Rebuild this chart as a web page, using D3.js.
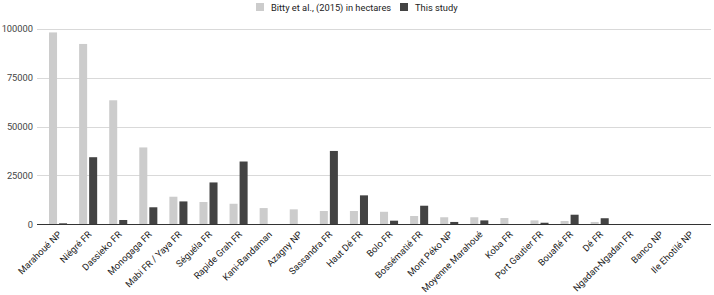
<!DOCTYPE html>
<html lang="en">
<head>
	<meta charset="utf-8">
	<title>Forest areas</title>
	<script type="text/javascript" src="https://cdn.jsdelivr.net/npm/d3@7"></script>
	<style type="text/css">
		body { margin: 0; background: #fff; }
		text { font-family: Roboto, "Noto Sans", sans-serif; }
	</style>
</head>
<body>
<script type="text/javascript">
	// data
	var categories = ["Marahoué NP", "Niégré FR", "Dassieko FR", "Monogaga FR", "Mabi FR / Yaya FR",
		"Séguéla FR", "Rapide Grah FR", "Kani-Bandaman", "Azagny NP", "Sassandra FR", "Haut Dé FR",
		"Bolo FR", "Bossématié FR", "Mont Péko NP", "Moyenne Marahoué", "Koba FR", "Port Gautier FR",
		"Bouaflé FR", "Dé FR", "Ngadan-Ngadan FR", "Banco NP", "Ile Ehotilé NP"];
	var bitty = [98100, 92200, 63400, 39300, 14100, 11400, 10500, 8300, 7650, 6800, 6800,
		6400, 4250, 3600, 3600, 3200, 2000, 1700, 1200, 0, 0, 0];
	var study = [500, 34300, 2200, 8700, 11700, 21400, 32100, 0, 0, 37500, 14800,
		1850, 9500, 1200, 2000, 0, 800, 4900, 3100, 0, 0, 0];
	var seriesNames = ["Bitty et al., (2015) in hectares", "This study"];
	var seriesColors = ["#cccccc", "#434343"];
	var yTicks = [0, 25000, 50000, 75000, 100000];

	var w = 714;
	var h = 295;
	var fs = "9.3px";

	var svg = d3.select("body")
		.append("svg")
		.attr("width", w)
		.attr("height", h)

	var x0 = d3.scaleBand()
		.domain(categories)
		.range([43, 705])
		.paddingInner(0.4)
		.paddingOuter(0.2)
	var x1 = d3.scaleBand()
		.domain([0, 1])
		.range([0, x0.bandwidth()])
		.paddingInner(0.2)
	var yScale = d3.scaleLinear()
		.domain([0, 100000])
		.range([224.3, 28.7])

	// gridlines
	svg.selectAll("line.grid")
		.data(yTicks.slice(1))
		.enter()
		.append("line")
		.attr("x1", 37)
		.attr("x2", 711)
		.attr("y1", function(d){ return Math.round(yScale(d)) + 0.5 })
		.attr("y2", function(d){ return Math.round(yScale(d)) + 0.5 })
		.attr("stroke", "#d9d9d9")
		.attr("stroke-width", 1)

	// y labels
	svg.selectAll("text.ylab")
		.data(yTicks)
		.enter()
		.append("text")
		.text(function(d){ return d })
		.attr("x", 33)
		.attr("y", function(d){ return yScale(d) + 3.5 })
		.attr("text-anchor", "end")
		.attr("font-size", fs)
		.attr("fill", "#444")

	// bars
	var series = [bitty, study];
	series.forEach(function(vals, s){
		svg.selectAll("rect.s" + s)
			.data(vals)
			.enter()
			.append("rect")
			.attr("class", "s" + s)
			.attr("x", function(d, i){ return x0(categories[i]) + x1(s) })
			.attr("y", function(d){ return yScale(d) })
			.attr("width", x1.bandwidth())
			.attr("height", function(d){ return yScale(0) - yScale(d) })
			.attr("fill", seriesColors[s])
	})

	// baseline
	svg.append("line")
		.attr("x1", 37)
		.attr("x2", 711)
		.attr("y1", Math.round(yScale(0)) + 0.5)
		.attr("y2", Math.round(yScale(0)) + 0.5)
		.attr("stroke", "#333")
		.attr("stroke-width", 1)

	// x labels, rotated 45 deg
	svg.selectAll("text.xlab")
		.data(categories)
		.enter()
		.append("text")
		.text(function(d){ return d })
		.attr("transform", function(d){
			var cx = x0(d) + x0.bandwidth() / 2 + 4;
			return "translate(" + cx + ",235) rotate(-45)"
		})
		.attr("text-anchor", "end")
		.attr("font-size", fs)
		.attr("fill", "#1a1a1a")

	// legend
	var legendX = [256, 400];
	seriesNames.forEach(function(name, s){
		svg.append("rect")
			.attr("x", legendX[s])
			.attr("y", 3)
			.attr("width", 8)
			.attr("height", 8)
			.attr("fill", seriesColors[s])
		svg.append("text")
			.text(name)
			.attr("x", legendX[s] + 15)
			.attr("y", 10.5)
			.attr("font-size", fs)
			.attr("fill", "#222")
	})
</script>
</body>
</html>
